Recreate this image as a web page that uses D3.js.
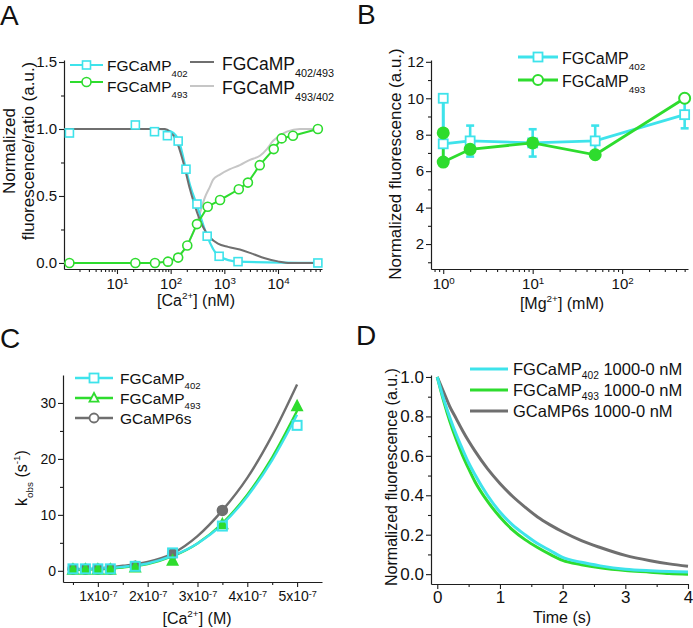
<!DOCTYPE html>
<html><head><meta charset="utf-8">
<script src="https://cdn.jsdelivr.net/npm/d3@7"></script>
<style>body{margin:0;background:#fff}</style>
</head><body>
<svg id="chart" width="693" height="628"></svg>
<script>
// ================= DATA =================
// Panel A  ([Ca2+] in nM)
const aSqCa  = [1.3, 22, 50, 87, 138, 193, 309, 479, 800, 1800, 55300];
const aSqVal = [0.97, 1.03, 0.98, 0.95, 0.91, 0.70, 0.44, 0.20, 0.05, 0.01, 0.0];
const aCirCa  = [1.3, 22, 51, 89, 138, 204, 309, 490, 832, 1860, 2750, 4570, 8320, 11700, 19000, 55300];
const aCirVal = [0, 0, 0, 0.01, 0.04, 0.13, 0.29, 0.42, 0.47, 0.55, 0.60, 0.73, 0.85, 0.93, 0.95, 1.0];
const aFitCa  = [1.03, 60, 97, 126, 150, 193, 230, 309, 400, 479, 800, 1800, 55300];
const aFitVal = [1.0, 1.0, 0.985, 0.95, 0.88, 0.70, 0.58, 0.43, 0.29, 0.20, 0.05, 0.01, 0.0];
const aR1Ca  = [1.03, 78, 97, 126, 170, 229, 309, 399, 540, 760, 1167, 1950, 3266, 5703, 9960, 16670, 66000];
const aR1Val = [1.0, 1.0, 0.98, 0.92, 0.76, 0.55, 0.38, 0.27, 0.19, 0.145, 0.12, 0.10, 0.07, 0.035, 0.012, 0.0, 0.0];
const aR2Ca  = [1.03, 41, 78, 137, 201, 309, 435, 540, 614, 829, 1271, 1950, 2997, 4603, 6214, 8035, 10850, 14650, 25600, 55300];
const aR2Val = [0, 0, 0.01, 0.05, 0.13, 0.30, 0.49, 0.57, 0.62, 0.66, 0.70, 0.73, 0.77, 0.80, 0.85, 0.91, 0.95, 0.98, 1.0, 1.0];
const aYTicks = [0.0, 0.5, 1.0, 1.5];
const aYMinor = [0.25, 0.75, 1.25];
const aXTicks = [10, 100, 1000, 10000];

// Panel B  ([Mg2+] in mM)
const bMg      = [1, 1, 2, 10, 50, 500];
const bCyan    = [10.0, 7.5, 7.66, 7.55, 7.66, 9.1];
const bCyanLo  = [null, 6.7, 6.8, 6.8, 6.9, 8.35];
const bCyanHi  = [null, 10.0, 8.5, 8.3, 8.5, 9.8];
const bGreen   = [8.1, 6.5, 7.2, 7.55, 6.9, 10.0];
const bYTicks = [2, 4, 6, 8, 10, 12];
const bYMinor = [1, 3, 5, 7, 9, 11];
const bXTicks = [1, 10, 100];

// Panel C  ([Ca2+] in M, kobs in s^-1)
const cCa   = [0.5e-7, 0.75e-7, 1.0e-7, 1.25e-7, 1.75e-7, 2.5e-7, 3.5e-7, 5.0e-7];
const cK402 = [0.35, 0.35, 0.35, 0.35, 0.8, 3.2, 8.0, 26.0];
const cK493 = [0.2, 0.2, 0.2, 0.2, 0.6, 1.8, 8.3, 29.4];
const cK6s  = [0.3, 0.3, 0.3, 0.3, 0.8, 3.0, 10.8, null];
const cFitCa   = [0.5e-7, 1.0e-7, 1.5e-7, 2.0e-7, 2.5e-7, 3.0e-7, 3.5e-7, 4.0e-7, 4.5e-7, 5.0e-7];
const cFit6s   = [0.2, 0.4, 0.9, 1.6, 3.1, 6.2, 10.8, 16.6, 24.2, 33.3];
const cFit493  = [0.1, 0.3, 0.6, 1.2, 2.6, 4.9, 8.5, 13.6, 20.3, 28.6];
const cFit402  = [0.3, 0.4, 0.7, 1.3, 2.7, 4.9, 8.3, 13.3, 19.8, 27.9];
const cYTicks = [0, 10, 20, 30];
const cYMinor = [5, 15, 25];
const cXTicks = [1e-7, 2e-7, 3e-7, 4e-7, 5e-7];
const cXMinor = [0.5e-7, 1.5e-7, 2.5e-7, 3.5e-7, 4.5e-7];

// Panel D  (time in s)
const dT     = [0, 0.1, 0.2, 0.3, 0.4, 0.5, 0.6, 0.8, 1.0, 1.2, 1.4, 1.6, 1.8, 2.0, 2.3, 2.6, 3.0, 3.4, 3.7, 4.0];
const d402   = [1.0, 0.89, 0.795, 0.71, 0.635, 0.565, 0.505, 0.40, 0.315, 0.25, 0.20, 0.155, 0.12, 0.085, 0.06, 0.042, 0.025, 0.017, 0.013, 0.011];
const d493   = [1.0, 0.88, 0.775, 0.685, 0.605, 0.535, 0.47, 0.37, 0.29, 0.225, 0.175, 0.135, 0.10, 0.07, 0.048, 0.032, 0.018, 0.01, 0.003, 0.0];
const d6s    = [1.0, 0.925, 0.85, 0.79, 0.73, 0.675, 0.625, 0.535, 0.46, 0.395, 0.34, 0.29, 0.25, 0.215, 0.17, 0.135, 0.095, 0.068, 0.052, 0.04];
const dYTicks = [0.0, 0.2, 0.4, 0.6, 0.8, 1.0];
const dYMinor = [0.1, 0.3, 0.5, 0.7, 0.9];
const dXTicks = [0, 1, 2, 3, 4];
const dXMinor = [0.5, 1.5, 2.5, 3.5];

// ================= STYLE =================
const FONT = '"Liberation Sans", Arial, Helvetica, sans-serif';
const CYAN = "#3ee3eb", GREEN = "#2edc2e", DARK = "#6f6f6f", LIGHT = "#c6c6c6", AX = "#1e1e1e";

const svg = d3.select("#chart").attr("font-family", FONT);

function zip(xs, ys) { return xs.map((x, i) => [x, ys[i]]).filter(d => d[1] !== null); }

function rich(g, x, y, parts, fs, anchor, rotate, subShift) {
  const t = g.append("text").attr("font-size", fs).attr("fill", "#111")
    .attr("text-anchor", anchor || "start");
  if (rotate) t.attr("transform", `translate(${x},${y}) rotate(-90)`);
  else t.attr("x", x).attr("y", y);
  let shift = 0;
  parts.forEach(p => {
    const [txt, kind] = Array.isArray(p) ? p : [p, "n"];
    let target = 0;
    if (kind === "sub") target = (subShift || 0.38) * fs;
    if (kind === "sup") target = -0.42 * fs;
    const ts = t.append("tspan").text(txt).attr("dy", target - shift);
    if (kind !== "n") ts.attr("font-size", fs * 0.62);
    shift = target;
  });
  return t;
}

function styleAxis(g, fs) {
  g.attr("font-family", FONT).attr("font-size", fs);
  g.selectAll("path.domain").attr("stroke", AX).attr("stroke-width", 1.2);
  g.selectAll(".tick line").attr("stroke", AX).attr("stroke-width", 1.1);
  g.selectAll(".tick text").attr("fill", "#111");
}

function axes(x, y, o) {
  const x0 = x.range()[0], y0 = y.range()[0];
  const gxm = svg.append("g").attr("transform", `translate(0,${y0})`)
    .call(d3.axisBottom(x).tickValues(o.xMinor).tickSize(3).tickFormat(""));
  gxm.select("path.domain").remove(); styleAxis(gxm, o.fs);
  const gym = svg.append("g").attr("transform", `translate(${x0},0)`)
    .call(d3.axisLeft(y).tickValues(o.yMinor).tickSize(3).tickFormat(""));
  gym.select("path.domain").remove(); styleAxis(gym, o.fs);
  const gx = svg.append("g").attr("transform", `translate(0,${y0})`)
    .call(d3.axisBottom(x).tickValues(o.xTicks).tickSize(5).tickSizeOuter(0).tickPadding(o.xPad || 4).tickFormat(o.xFmt || (d => d)));
  styleAxis(gx, o.fs);
  if (o.xLabel) gx.selectAll(".tick text").each(function (d) { o.xLabel(d3.select(this).text(null), d); });
  const gy = svg.append("g").attr("transform", `translate(${x0},0)`)
    .call(d3.axisLeft(y).tickValues(o.yTicks).tickSize(5).tickSizeOuter(0).tickPadding(2).tickFormat(o.yFmt));
  styleAxis(gy, o.fs);
}

function marker(g, type, cx, cy, s, color, fill, sw) {
  if (type === "square") g.append("rect").attr("x", cx - s / 2).attr("y", cy - s / 2).attr("width", s).attr("height", s)
    .attr("fill", fill).attr("stroke", color).attr("stroke-width", sw);
  else if (type === "circle") g.append("circle").attr("cx", cx).attr("cy", cy).attr("r", s / 2)
    .attr("fill", fill).attr("stroke", color).attr("stroke-width", sw);
  else if (type === "triangle") {
    const h = s * 0.9;
    g.append("path").attr("d", `M${cx},${cy - h * 0.62}L${cx + s / 2},${cy + h * 0.45}L${cx - s / 2},${cy + h * 0.45}Z`)
      .attr("fill", fill).attr("stroke", color).attr("stroke-width", sw);
  }
}

function supTen(sel, d) {
  sel.append("tspan").text("10");
  sel.append("tspan").attr("dy", "-0.45em").attr("font-size", "0.65em").text(Math.round(Math.log10(d)));
}

// panel letters
[["A", 0, 25], ["B", 357, 24], ["C", 0, 348], ["D", 356, 345]].forEach(([t, x, y]) =>
  svg.append("text").attr("x", x).attr("y", y).attr("font-size", 28).attr("fill", "#111").text(t));

// ================= PANEL A =================
{
  const x = d3.scaleLog().domain([1.03, 66000]).range([64, 322]);
  const y = d3.scaleLinear().domain([-0.045, 1.515]).range([269, 60]);
  const minors = x.ticks().filter(v => Math.abs(Math.log10(v) - Math.round(Math.log10(v))) > 1e-6);
  axes(x, y, { xTicks: aXTicks, xMinor: minors, yTicks: aYTicks, yMinor: aYMinor, fs: 15,
    yFmt: d3.format(".1f"), xLabel: supTen });
  const g = svg.append("g");
  const line = d3.line().x(d => x(d[0])).y(d => y(d[1])).curve(d3.curveMonotoneX);
  g.append("path").datum(zip(aR2Ca, aR2Val)).attr("d", line).attr("fill", "none").attr("stroke", LIGHT).attr("stroke-width", 2);
  g.append("path").datum(zip(aFitCa, aFitVal)).attr("d", line).attr("fill", "none").attr("stroke", CYAN).attr("stroke-width", 2.2);
  g.append("path").datum(zip(aR1Ca, aR1Val)).attr("d", line).attr("fill", "none").attr("stroke", DARK).attr("stroke-width", 2);
  g.append("path").datum(zip(aCirCa, aCirVal)).attr("d", d3.line().x(d => x(d[0])).y(d => y(d[1])))
    .attr("fill", "none").attr("stroke", GREEN).attr("stroke-width", 2);
  zip(aSqCa, aSqVal).forEach(d => marker(g, "square", x(d[0]), y(d[1]), 8, CYAN, "#fff", 1.6));
  zip(aCirCa, aCirVal).forEach(d => marker(g, "circle", x(d[0]), y(d[1]), 9, GREEN, "#fff", 1.6));
  const L = svg.append("g");
  L.append("line").attr("x1", 70).attr("x2", 103).attr("y1", 65).attr("y2", 65).attr("stroke", CYAN).attr("stroke-width", 2.2);
  marker(L, "square", 86.5, 65, 8, CYAN, "#fff", 1.6);
  rich(L, 107, 71, ["FGCaMP", ["402", "sub"]], 15.5);
  L.append("line").attr("x1", 70).attr("x2", 103).attr("y1", 82).attr("y2", 82).attr("stroke", GREEN).attr("stroke-width", 2.2);
  marker(L, "circle", 86.5, 82, 9, GREEN, "#fff", 1.6);
  rich(L, 107, 92, ["FGCaMP", ["493", "sub"]], 15.5);
  L.append("line").attr("x1", 190).attr("x2", 214).attr("y1", 62).attr("y2", 62).attr("stroke", DARK).attr("stroke-width", 2);
  rich(L, 222, 70, ["FGCaMP", ["402/493", "sub"]], 17.5);
  L.append("line").attr("x1", 190).attr("x2", 214).attr("y1", 86).attr("y2", 86).attr("stroke", LIGHT).attr("stroke-width", 2);
  rich(L, 222, 94, ["FGCaMP", ["493/402", "sub"]], 17.5);
  rich(svg, 15, 151, ["Normalized"], 17, "middle", true);
  rich(svg, 34, 151, ["fluorescence/ratio (a.u.)"], 17, "middle", true);
  rich(svg, 196, 306, ["[Ca", ["2+", "sup"], "] (nM)"], 16, "middle");
}

// ================= PANEL B =================
{
  const x = d3.scaleLog().domain([0.73, 545]).range([431, 688]);
  const y = d3.scaleLinear().domain([0.63, 12.1]).range([269, 60]);
  const minors = x.ticks().filter(v => Math.abs(Math.log10(v) - Math.round(Math.log10(v))) > 1e-6);
  axes(x, y, { xTicks: bXTicks, xMinor: minors, yTicks: bYTicks, yMinor: bYMinor, fs: 15,
    yFmt: d3.format("d"), xLabel: supTen });
  const g = svg.append("g");
  bMg.forEach((m, i) => {
    if (bCyanLo[i] === null) return;
    const cx = x(m);
    g.append("line").attr("x1", cx).attr("x2", cx).attr("y1", y(bCyanLo[i])).attr("y2", y(bCyanHi[i]))
      .attr("stroke", CYAN).attr("stroke-width", 2.6);
    [bCyanLo[i], bCyanHi[i]].forEach(v => g.append("line").attr("x1", cx - 4).attr("x2", cx + 4)
      .attr("y1", y(v)).attr("y2", y(v)).attr("stroke", CYAN).attr("stroke-width", 2.6));
  });
  const line = d3.line().x(d => x(d[0])).y(d => y(d[1]));
  g.append("path").datum(zip(bMg, bCyan)).attr("d", line).attr("fill", "none").attr("stroke", CYAN).attr("stroke-width", 2.8);
  g.append("path").datum(zip(bMg, bGreen)).attr("d", line).attr("fill", "none").attr("stroke", GREEN).attr("stroke-width", 2.8);
  zip(bMg, bCyan).forEach(d => marker(g, "square", x(d[0]), y(d[1]), 9, CYAN, "#fff", 1.8));
  zip(bMg, bGreen).forEach((d, i) => marker(g, "circle", x(d[0]), y(d[1]), 11, GREEN,
    i === bMg.length - 1 ? "#fff" : GREEN, 2));
  const L = svg.append("g");
  L.append("line").attr("x1", 518).attr("x2", 558).attr("y1", 57).attr("y2", 57).attr("stroke", CYAN).attr("stroke-width", 2.8);
  marker(L, "square", 538, 57, 9, CYAN, "#fff", 1.8);
  rich(L, 562, 64, ["FGCaMP", ["402", "sub"]], 16);
  L.append("line").attr("x1", 518).attr("x2", 558).attr("y1", 80).attr("y2", 80).attr("stroke", GREEN).attr("stroke-width", 2.8);
  marker(L, "circle", 538, 80, 10, GREEN, "#fff", 2);
  rich(L, 562, 87, ["FGCaMP", ["493", "sub"]], 16);
  rich(svg, 401, 164, ["Normalized fluorescence (a.u.)"], 17, "middle", true);
  rich(svg, 562, 309, ["[Mg", ["2+", "sup"], "] (mM)"], 16, "middle");
}

// ================= PANEL C =================
{
  const x = d3.scaleLinear().domain([0.3e-7, 5.5e-7]).range([63, 322]);
  const y = d3.scaleLinear().domain([-2, 35]).range([582, 375]);
  axes(x, y, { xTicks: cXTicks, xMinor: cXMinor, yTicks: cYTicks, yMinor: cYMinor, fs: 14,
    yFmt: d3.format("d"),
    xLabel: (sel, d) => { sel.append("tspan").text(Math.round(d / 1e-7) + "x10");
      sel.append("tspan").attr("dy", "-0.45em").attr("font-size", "0.65em").text("-7"); } });
  const g = svg.append("g");
  const line = d3.line().x(d => x(d[0])).y(d => y(d[1])).curve(d3.curveMonotoneX);
  g.append("path").datum(zip(cFitCa, cFit6s)).attr("d", line).attr("fill", "none").attr("stroke", DARK).attr("stroke-width", 2.4);
  g.append("path").datum(zip(cFitCa, cFit493)).attr("d", line).attr("fill", "none").attr("stroke", GREEN).attr("stroke-width", 2.4);
  g.append("path").datum(zip(cFitCa, cFit402)).attr("d", line).attr("fill", "none").attr("stroke", CYAN).attr("stroke-width", 2.4);
  zip(cCa, cK6s).forEach(d => marker(g, "circle", x(d[0]), y(d[1]), 10, DARK, DARK, 1.5));
  zip(cCa, cK493).forEach(d => marker(g, "triangle", x(d[0]), y(d[1]), 10, GREEN, GREEN, 1.8));
  zip(cCa, cK402).forEach(d => marker(g, "square", x(d[0]), y(d[1]), 9, CYAN, "none", 2));
  const L = svg.append("g");
  [[378, CYAN, "square", ["FGCaMP", ["402", "sub"]]], [398, GREEN, "triangle", ["FGCaMP", ["493", "sub"]]],
   [418, DARK, "circle", ["GCaMP6s"]]].forEach(([yy, c, m, parts]) => {
    L.append("line").attr("x1", 75).attr("x2", 113).attr("y1", yy).attr("y2", yy).attr("stroke", c).attr("stroke-width", 2.6);
    marker(L, m, 94, yy, 9, c, "#fff", 1.8);
    rich(L, 120, yy + 6, parts, 15.5, "start", false, 0.3);
  });
  rich(svg, 27, 478, ["k", ["obs", "sub"], " (s", ["-1", "sup"], ")"], 16, "middle", true);
  rich(svg, 197, 624, ["[Ca", ["2+", "sup"], "] (M)"], 16, "middle");
}

// ================= PANEL D =================
{
  const x = d3.scaleLinear().domain([-0.1, 4.0]).range([431, 688]);
  const y = d3.scaleLinear().domain([-0.05, 1.01]).range([584, 375]);
  axes(x, y, { xTicks: dXTicks, xMinor: dXMinor, yTicks: dYTicks, yMinor: dYMinor, fs: 17, xPad: 2,
    yFmt: d3.format(".1f"), xFmt: d3.format("d") });
  const g = svg.append("g");
  const line = d3.line().x(d => x(d[0])).y(d => y(d[1])).curve(d3.curveMonotoneX);
  g.append("path").datum(zip(dT, d6s)).attr("d", line).attr("fill", "none").attr("stroke", DARK).attr("stroke-width", 3);
  g.append("path").datum(zip(dT, d493)).attr("d", line).attr("fill", "none").attr("stroke", GREEN).attr("stroke-width", 3);
  g.append("path").datum(zip(dT, d402)).attr("d", line).attr("fill", "none").attr("stroke", CYAN).attr("stroke-width", 3);
  const L = svg.append("g");
  [[369, CYAN, ["FGCaMP", ["402", "sub"], " 1000-0 nM"]], [390, GREEN, ["FGCaMP", ["493", "sub"], " 1000-0 nM"]],
   [411, DARK, ["GCaMP6s 1000-0 nM"]]].forEach(([yy, c, parts]) => {
    L.append("line").attr("x1", 470).attr("x2", 508).attr("y1", yy).attr("y2", yy).attr("stroke", c).attr("stroke-width", 3);
    rich(L, 513, yy + 6, parts, 16.5, "start", false, 0.25);
  });
  rich(svg, 397, 477, ["Normalized fluorescence (a.u.)"], 16, "middle", true);
  rich(svg, 562, 623, ["Time (s)"], 16, "middle");
}
</script>
</body></html>
